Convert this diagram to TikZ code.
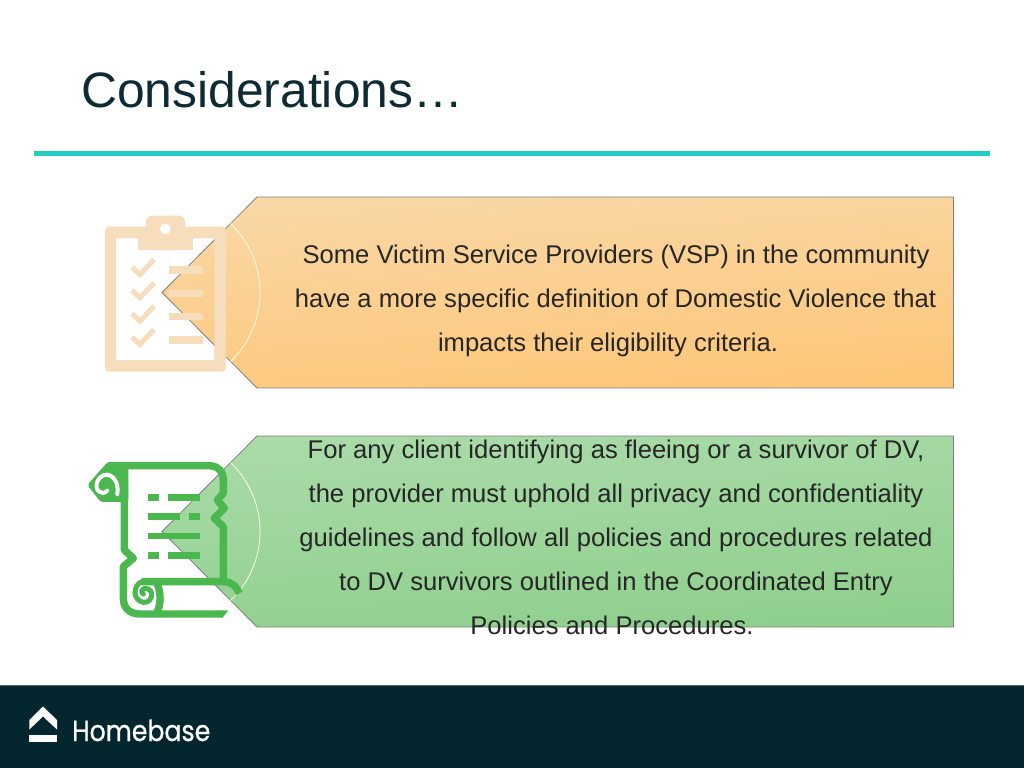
\documentclass[tikz,border=0pt]{standalone}
\usepackage{fontspec}
\setmainfont{Liberation Sans}
\newfontfamily\logofont[RawFeature={embolden=0.8}]{Poppins}
\definecolor{inkdark}{HTML}{03262F}
\definecolor{titleink}{HTML}{0E2A33}
\definecolor{bodyink}{HTML}{262626}
\definecolor{tealrule}{HTML}{1FCFC2}
\definecolor{orangetop}{HTML}{F9D8A6}
\definecolor{orangebot}{HTML}{FDC678}
\definecolor{greentop}{HTML}{AADBA9}
\definecolor{greenbot}{HTML}{8ECF8C}
\definecolor{clipband}{HTML}{F6DDBB}
\definecolor{scrollgreen}{HTML}{4BB84F}
\tikzset{
  bodyline/.style={anchor=base,inner sep=0pt,text=bodyink,font=\fontsize{25.6}{25.6}\selectfont},
  edgeline/.style={draw=black!50,line width=0.8pt},
  arcline/.style={draw=white!90!yellow,line width=0.8pt},
  scrollstroke/.style={draw=scrollgreen,line width=7.4pt,line join=round},
  scrollthin/.style={draw=scrollgreen,line width=5pt,line cap=round},
  scrollgap/.style={draw=white,line width=4pt,line cap=round},
  clipcheck/.style={draw=clipband,line width=5pt},
}
\begin{document}
\begin{tikzpicture}[x=1pt,y=-1pt]
\useasboundingbox (0,0) rectangle (1024,768);
\fill[white] (0,0) rectangle (1024,768);
% title and rule
\node[anchor=base west,inner sep=0pt,text=titleink,font=\fontsize{49.8}{49.8}\selectfont] (title) at (81,107) {Considerations…};
\fill[tealrule] (34,150.5) rectangle (990,155.5);
% footer
\fill[inkdark] (0,685.5) rectangle (1024,768);
\draw[draw=inkdark!70!white,line width=0.8pt] (0,685.5) -- (1024,685.5);
\fill[white] (29.3,720) -- (43,706.5) -- (57,720) -- (57,729.5) -- (43,716.5) -- (29.3,729.5) -- cycle;
\fill[white] (29.3,735) rectangle (57,741.5);
\node[anchor=base west,inner sep=0pt,text=white,xscale=0.87,font=\logofont\fontsize{29}{29}\selectfont] (brand) at (72,741) {Homebase};
% orange panel
\path[edgeline,top color=orangetop,bottom color=orangebot,shading angle=4]
  (257,197) -- (953.5,197) -- (953.5,388) -- (257,388) -- (162,292.5) -- cycle;
\begin{scope}
  \clip (257,197) -- (953.5,197) -- (953.5,388) -- (257,388) -- (162,292.5) -- cycle;
  \draw[arcline] (164.5,292.5) circle[radius=95.5];
\end{scope}
% clipboard icon
\fill[clipband,even odd rule,rounded corners=4pt] (105,226.7) rectangle (226,371.7) (116,238.3) [sharp corners] rectangle (214.3,360);
\fill[clipband,rounded corners=6pt] (146,250) -- (146,215.7) -- (185,215.7) -- (185,250) -- cycle;
\fill[clipband] (138.3,238) rectangle (192.7,250);
\fill[white] (165.3,229) circle[radius=5.4];
\foreach \yy in {270,293.3,316.7,340}{
  \draw[clipcheck] (132,\yy-3) -- (140,\yy+4.5) -- (154,\yy-10.5);
  \fill[clipband] (169.3,\yy-3.7) rectangle (202.7,\yy+3.7);
}
% green panel
\path[edgeline,top color=greentop,bottom color=greenbot,shading angle=4]
  (257,436) -- (953.5,436) -- (953.5,627) -- (257,627) -- (162,531.5) -- cycle;
\begin{scope}
  \clip (257,436) -- (953.5,436) -- (953.5,627) -- (257,627) -- (162,531.5) -- cycle;
  \draw[arcline] (164.5,531.5) circle[radius=95.5];
\end{scope}
% scroll icon
\begin{scope}[shift={(80,430)},x=0.3333pt,y=-0.3333pt]
  % top curl: solid wedge with a white spiral cut out of it
  \fill[scrollgreen,rounded corners=2pt] (145,216) -- (62,216) -- (22,165) -- (82,97) -- (145,97) -- cycle;
  \draw[scrollgap] (112,192) .. controls (120,135) and (70,115) .. (52,155) .. controls (42,180) and (65,200) .. (82,182);
  \draw[scrollstroke] (85,107) -- (385,107)
     .. controls (415,107) and (430,125) .. (430,150) -- (430,190) -- (412,210) -- (433,235) -- (403,265) -- (430,290) -- (430,455);
  \draw[scrollstroke] (112,110) .. controls (128,125) and (133,135) .. (133,160) -- (133,360) -- (160,385) -- (130,410) -- (130,505)
     .. controls (130,535) and (150,552) .. (180,552) -- (425,552);
  \fill[scrollgreen] (420,541) -- (445,541) -- (428,563) -- (420,563) -- cycle;
  \draw[scrollstroke] (185,455) -- (430,455) .. controls (455,455) and (470,470) .. (478,490);
  % bottom curl
  \draw[scrollstroke] (232,545) .. controls (243,520) and (243,490) .. (232,462);
  \draw[scrollthin] (185,455) .. controls (160,465) and (155,510) .. (190,517) .. controls (220,520) and (225,475) .. (195,475) .. controls (185,477) and (182,487) .. (190,492);
  \foreach \ya/\xa/\xb in {203/205/238,203/265/360,260/205/300,260/328/360,318/205/360,377/205/238,377/265/360}{
    \fill[scrollgreen] (\xa,\ya-10) rectangle (\xb,\ya+10);
  }
\end{scope}
% text
\node[bodyline] (a1) at (616,263) {Some Victim Service Providers (VSP) in the community};
\node[bodyline] (a2) at (615.5,307) {have a more specific definition of Domestic Violence that};
\node[bodyline] (a3) at (608,351) {impacts their eligibility criteria.};
\node[bodyline] (b1) at (616,458) {For any client identifying as fleeing or a survivor of DV,};
\node[bodyline] (b2) at (616,502) {the provider must uphold all privacy and confidentiality};
\node[bodyline] (b3) at (616,546) {guidelines and follow all policies and procedures related};
\node[bodyline] (b4) at (616,590) {to DV survivors outlined in the Coordinated Entry};
\node[bodyline] (b5) at (612,634) {Policies and Procedures.};
\end{tikzpicture}
\end{document}
